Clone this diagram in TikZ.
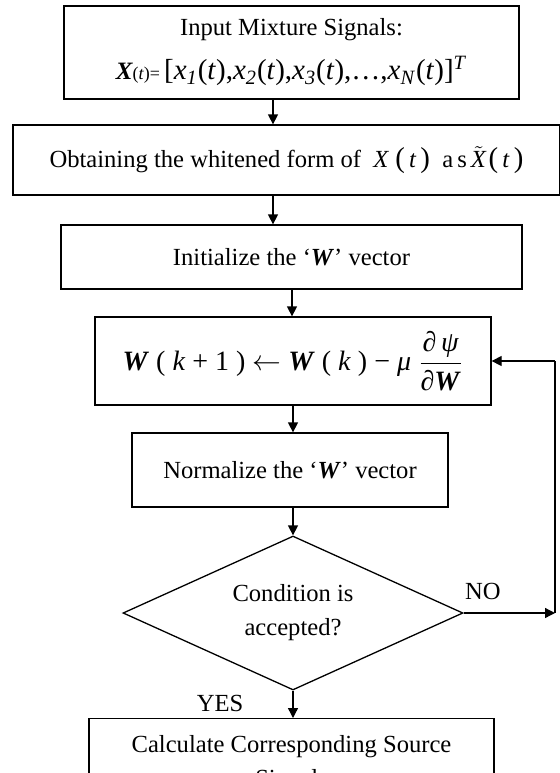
\documentclass[tikz,border=0pt]{standalone}
\usepackage{fontspec}
\setmainfont{Liberation Serif}
\usetikzlibrary{shapes.geometric,arrows.meta}
\begin{document}
\begin{tikzpicture}[x=0.5pt,y=-0.5pt,
  box/.style={draw,line width=0.65pt,inner sep=0pt,align=center,font=\fontsize{12.3}{17}\selectfont},
  dia/.style={draw,line width=0.65pt,shape=diamond,inner sep=0pt,shape aspect=2.2,minimum width=170pt,minimum height=77pt,align=center,font=\fontsize{12.3}{17}\selectfont},
  arr/.style={line width=0.65pt,-{Triangle[length=5pt,width=5pt]}},
  lbl/.style={font=\fontsize{12.3}{15}\selectfont,inner sep=0pt}]
\useasboundingbox (0,0) rectangle (560,773);
\clip (0,0) rectangle (560,773);
\node[box,minimum width=227.5pt,minimum height=46.5pt] (b1) at (291.5,52.5)
  {\raisebox{2pt}{Input Mixture Signals:}\\[3pt]
   {\fontsize{12.5}{15}\selectfont\bfseries\itshape X}{\fontsize{9}{11}\selectfont(\textit{t})=}\,{\fontsize{14.5}{17}\selectfont [\textit{x}\textsubscript{\textit{1}}(\textit{t}),\textit{x}\textsubscript{\textit{2}}(\textit{t}),\textit{x}\textsubscript{\textit{3}}(\textit{t}),…,\textit{x}\textsubscript{\textit{N}}(\textit{t})]\textsuperscript{\textit{T}}}};
\node[box,minimum width=273.5pt,minimum height=35pt] (b2) at (286.5,160)
  {Obtaining the whitened form of \ \textit{X} {\Large(}\,\textit{t}\,{\Large)} \ a\,s\kern2pt$\tilde{\mbox{\textit{X}}}$\kern1pt {\Large(}\,\textit{t}\,{\Large)}};
\node[box,minimum width=230.5pt,minimum height=32pt] (b3) at (291.5,257)
  {Initialize the ‘\textbf{\textit{W}}’ vector};
\node[box,minimum width=198pt,minimum height=44pt,font=\fontsize{14}{17}\selectfont] (b4) at (293,361)
  {\textbf{\textit{W}} ( \textit{k} + 1 ) $\leftarrow$ \textbf{\textit{W}} ( \textit{k} ) − \textit{μ} $\displaystyle\frac{\mbox{∂\,\textit{ψ}}}{\mbox{∂\textbf{\textit{W}}}}$};
\node[box,minimum width=158pt,minimum height=37pt] (b5) at (290,470)
  {Normalize the ‘\textbf{\textit{W}}’ vector};
\node[dia] (d) at (293,613) {Condition is\\accepted?};
\node[box,minimum width=202.5pt,minimum height=45pt,anchor=north] (b6) at (291.5,718)
  {Calculate Corresponding Source\\Signals};
\coordinate (c) at (555,613);
\draw[arr] ([xshift=-9.25pt]b1.south) -- ([xshift=-9.25pt]b1.south |- b2.north);
\draw[arr] ([xshift=-6.75pt]b2.south) -- ([xshift=-6.75pt]b2.south |- b3.north);
\draw[arr] ([xshift=0.25pt]b3.south) -- ([xshift=0.25pt]b3.south |- b4.north);
\draw[arr] (b4.south) -- (b4.south |- b5.north);
\draw[arr] (d.north |- b5.south) -- (d.north);
\draw[arr] (d.south) -- (d.south |- b6.north);
\draw[arr] (d.east) -- (c);
\draw[line width=1.1pt] (c) -- (c |- b4.east);
\draw[arr] (c |- b4.east) -- (b4.east);
\node[lbl] (no) at (483,591) {NO};
\node[lbl] (yes) at (220,703) {YES};
\end{tikzpicture}
\end{document}
